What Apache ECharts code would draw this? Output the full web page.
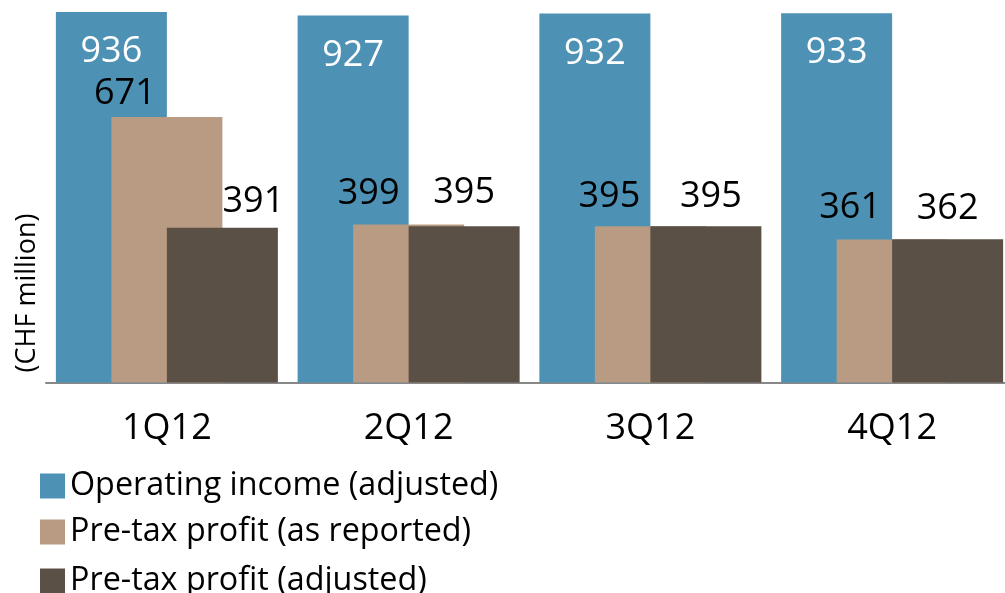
<!DOCTYPE html>
<html>
<head>
<meta charset="utf-8">
<script src="https://cdn.jsdelivr.net/npm/echarts@6/dist/echarts.min.js"></script>
<style>
  html, body { margin: 0; padding: 0; background: #fff; }
  #main { width: 1005px; height: 593px; }
</style>
</head>
<body>
<div id="main"></div>
<script>
var quarters = ['1Q12', '2Q12', '3Q12', '4Q12'];
var operatingIncome = [936, 927, 932, 933];
var pretaxReported = [671, 399, 395, 361];
var pretaxAdjusted = [391, 395, 395, 362];
var seriesNames = ['Operating income (adjusted)', 'Pre-tax profit (as reported)', 'Pre-tax profit (adjusted)'];

// label nudges per bar, [dx, dy]
var reportedLabelShift = [[-42, 0], [-40, -8], [-41, -6], [-42, -9]];
var adjustedLabelShift = [[31, -3], [0, -10], [5, -6], [0, -7]];

var font = '"Open Sans", "Noto Sans", sans-serif';

function withShift(values, shifts) {
  return values.map(function (v, i) {
    return { value: v, label: { offset: shifts[i] } };
  });
}

var myChart = echarts.init(document.getElementById('main'));
var option = {
  animation: false,
  textStyle: { fontFamily: font },
  grid: { left: 46, width: 967, top: 6.5, height: 376, outerBoundsMode: 'none' },
  legend: [0, 1, 2].map(function (k) {
    var tops = [470, 516, 565];
    return {
      data: [seriesNames[k]],
      left: 40, top: tops[k],
      padding: 0,
      orient: 'vertical',
      itemWidth: 25, itemHeight: 25, itemGap: 0, itemTextGap: 8,
      icon: 'rect',
      selectedMode: false,
      textStyle: { fontSize: 32.3, color: '#000', fontFamily: font, padding: [7, 0, 0, 0] }
    };
  }),
  graphic: [{
    type: 'text',
    x: 27, y: 293,
    rotation: Math.PI / 2,
    style: {
      text: '(CHF million)',
      font: '27px "Open Sans", sans-serif',
      fill: '#000',
      align: 'center',
      verticalAlign: 'middle'
    }
  }],
  xAxis: {
    type: 'category',
    data: quarters,
    axisLine: { lineStyle: { color: '#888', width: 2 } },
    axisTick: { show: false },
    axisLabel: { fontSize: 36, color: '#000', margin: 28 }
  },
  yAxis: { type: 'value', min: 0, max: 950, show: false, splitLine: { show: false } },
  series: [
    {
      name: seriesNames[0], type: 'bar', data: operatingIncome,
      barWidth: 111, barGap: '-50%',
      itemStyle: { color: '#4D91B4' },
      label: { show: true, position: 'insideTop', distance: 22, fontSize: 36, color: '#fff' }
    },
    {
      name: seriesNames[1], type: 'bar', data: withShift(pretaxReported, reportedLabelShift),
      barWidth: 111, barGap: '-50%',
      itemStyle: { color: '#B89B82' },
      label: { show: true, position: 'top', fontSize: 36, color: '#000' }
    },
    {
      name: seriesNames[2], type: 'bar', data: withShift(pretaxAdjusted, adjustedLabelShift),
      barWidth: 111, barGap: '-50%',
      itemStyle: { color: '#5A5046' },
      label: { show: true, position: 'top', fontSize: 36, color: '#000' }
    }
  ]
};
myChart.setOption(option);
</script>
</body>
</html>
